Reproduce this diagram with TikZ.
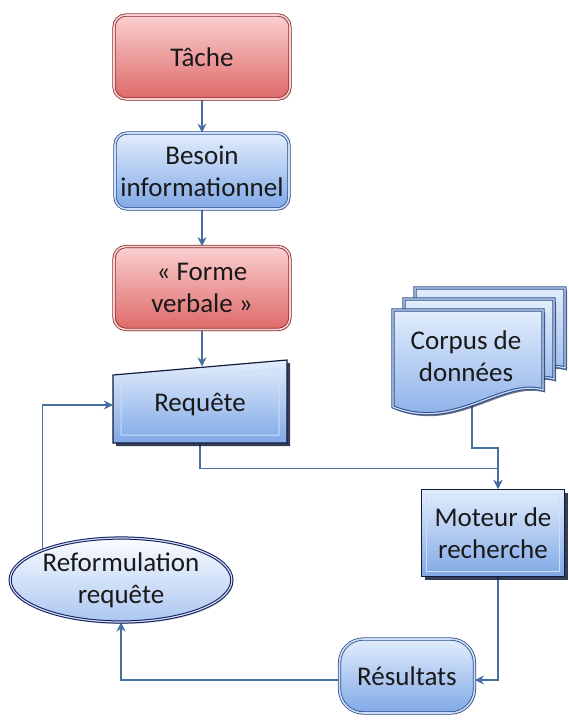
\documentclass[tikz,border=0pt]{standalone}
\usepackage{fontspec}
\setmainfont{Carlito}
\usetikzlibrary{arrows.meta,shapes.geometric,shadows,backgrounds}

\definecolor{redtop}{RGB}{250,208,208}
\definecolor{redmid}{RGB}{240,158,158}
\definecolor{redbot}{RGB}{222,104,104}
\definecolor{redline}{RGB}{135,45,45}
\definecolor{bluetop}{RGB}{226,237,252}
\definecolor{bluemid}{RGB}{182,206,244}
\definecolor{bluebot}{RGB}{128,168,230}
\definecolor{blueline}{RGB}{45,78,140}
\definecolor{navy}{RGB}{18,28,58}
\definecolor{rimc}{RGB}{205,222,246}
\definecolor{connc}{RGB}{70,110,160}
\definecolor{inkc}{RGB}{25,25,25}

\tikzset{
  base/.style={align=center, font=\fontsize{27}{32}\selectfont, text=inkc, inner sep=0pt},
  redbox/.style={base, rounded corners=12pt,
    top color=redtop, middle color=redmid, bottom color=redbot,
    draw=redline, line width=0.8pt, double=redtop, double distance=1.6pt,
    drop shadow={shadow xshift=1.5pt, shadow yshift=-1.5pt, opacity=0.3}},
  bluebox/.style={base, rounded corners=12pt,
    top color=bluetop, middle color=bluemid, bottom color=bluebot,
    draw=blueline, line width=0.8pt, double=rimc, double distance=1.6pt,
    drop shadow={shadow xshift=1.5pt, shadow yshift=-1.5pt, opacity=0.3}},
  bevel/.style={top color=bluetop, middle color=bluemid!90!white, bottom color=bluebot,
    draw=navy, line width=1.2pt,
    drop shadow={shadow xshift=3pt, shadow yshift=-3pt, fill=navy, opacity=0.85}},
  innerline/.style={draw=rimc, line width=1pt},
  docshape/.style={top color=bluetop, middle color=bluemid, bottom color=bluebot,
    draw=blueline, line width=1pt, double=rimc, double distance=1.2pt,
    drop shadow={shadow xshift=2pt, shadow yshift=-2.5pt, fill=navy, opacity=0.6}},
  ovalbox/.style={base, ellipse, top color=white!85!bluetop, middle color=bluetop, bottom color=bluemid!80!bluebot,
    draw=navy!85!blue, line width=1pt, double=rimc, double distance=1.2pt,
    drop shadow={shadow xshift=1.5pt, shadow yshift=-2pt, opacity=0.35}},
  conn/.style={draw=connc, line width=1.1pt, -{Stealth[length=9pt,width=9pt,inset=3pt]}},
}

\begin{document}
\begin{tikzpicture}[x=1pt, y=-1pt]
\useasboundingbox (0,0) rectangle (568,720);

% main chain of boxes
\node[redbox, minimum width=176pt, minimum height=84pt] (tache) at (202,57) {Tâche};
\node[bluebox, minimum width=174pt, minimum height=76pt] (besoin) at (202,171) {Besoin\\informationnel};
\node[redbox, minimum width=176pt, minimum height=83pt] (forme) at (202,288) {« Forme\\verbale »};

% query: manual-input shape with bevel
\path[bevel] (113,375) -- (287,360) -- (287,443) -- (113,443) -- cycle;
\draw[innerline] (121,382) -- (279,369) -- (279,435) -- (121,435) -- cycle;
\node[base, minimum width=174pt, minimum height=77pt] (requete) at (200,405) {Requête};

% document collection, back to front
\foreach \dx/\dy in {22/-22, 11/-11, 0/0}{
  \path[docshape, shift={(393+\dx,310+\dy)}]
    (0,0) -- (150,0) -- (150,80)
    .. controls (108,68) and (62,122) .. (0,97) -- cycle;
}
\node[base] (corpus) at (466,356) {Corpus de\\données};
\coordinate (cb) at (472,395);

% search engine
\node[base, bevel, minimum width=143pt, minimum height=87pt] (moteur) at (493,533) {};
\draw[innerline] ([shift={(6pt,-6pt)}]moteur.north west) rectangle ([shift={(-6pt,6pt)}]moteur.south east);
\node[base] at (moteur) {Moteur de\\recherche};

% results and reformulation
\node[bluebox, rounded corners=24pt, minimum width=135pt, minimum height=74pt] (resultats) at (407,676) {Résultats};
\node[ovalbox, minimum width=216pt, minimum height=84pt] (reform) at (121,580) {Reformulation\\requête};

% connectors
\begin{scope}[on background layer]
  \draw[conn] (tache) -- (besoin);
  \draw[conn] (besoin) -- (forme);
  \draw[conn] (forme.south) -- (forme.south |- requete.north);
  \draw[conn] (requete.south) -- ++(0,25) -| ([xshift=5pt]moteur.north);
  \draw[conn] (cb) -- (472,448) -| ([xshift=5pt]moteur.north);
  \draw[conn] ([xshift=5pt]moteur.south) |- ([yshift=-4pt]resultats.east);
  \draw[conn] ([yshift=-4pt]resultats.west) -| (reform.south);
  \draw[conn] (reform.north west) |- (requete.west);
\end{scope}
\end{tikzpicture}
\end{document}
